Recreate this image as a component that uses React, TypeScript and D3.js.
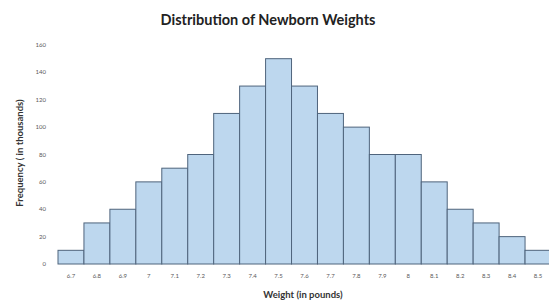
import { useRef, useEffect } from 'react'
import * as d3 from 'd3'

const weights = ["6.7", "6.8", "6.9", "7", "7.1", "7.2", "7.3", "7.4", "7.5", "7.6", "7.7", "7.8", "7.9", "8", "8.1", "8.2", "8.3", "8.4", "8.5"]
const frequencies = [10, 30, 40, 60, 70, 80, 110, 130, 150, 130, 110, 100, 80, 80, 60, 40, 30, 20, 10]
const yTicks = [0, 20, 40, 60, 80, 100, 120, 140, 160]

const width = 549
const height = 300
const margin = { top: 45, right: -2, bottom: 36, left: 58 }

export default function App() {
  const svgRef = useRef<SVGSVGElement>(null)

  useEffect(() => {
    if (!svgRef.current) return
    const svg = d3.select(svgRef.current)
    svg.selectAll("*").remove()

    const innerWidth = width - margin.left - margin.right
    const innerHeight = height - margin.top - margin.bottom

    const x = d3.scaleBand()
      .domain(weights)
      .range([0, innerWidth])
      .padding(0)

    const y = d3.scaleLinear()
      .domain([0, 160])
      .range([innerHeight, 0])

    const font = "Lato, 'Open Sans', sans-serif"

    // Title
    svg.append("text")
      .attr("x", 268)
      .attr("y", 25)
      .attr("text-anchor", "middle")
      .attr("font-family", font)
      .attr("font-weight", "bold")
      .attr("font-size", 14.5)
      .attr("fill", "#222")
      .text("Distribution of Newborn Weights")

    const g = svg.append("g")
      .attr("transform", `translate(${margin.left},${margin.top})`)

    // y ticks (labels only)
    g.selectAll(".ytick")
      .data(yTicks)
      .enter()
      .append("text")
      .attr("x", -12)
      .attr("y", d => y(d))
      .attr("dy", "0.35em")
      .attr("text-anchor", "end")
      .attr("font-family", font)
      .attr("font-size", 6)
      .attr("fill", "#595959")
      .text(d => d)

    // bars
    g.selectAll("rect")
      .data(frequencies)
      .enter()
      .append("rect")
      .attr("x", (_, i) => x(weights[i]) || 0)
      .attr("y", d => y(d))
      .attr("width", x.bandwidth())
      .attr("height", d => innerHeight - y(d))
      .attr("fill", "#bdd7ee")
      .attr("stroke", "#4f647c")
      .attr("stroke-width", 1)

    // x labels
    g.selectAll(".xtick")
      .data(weights)
      .enter()
      .append("text")
      .attr("x", d => (x(d) || 0) + x.bandwidth() / 2)
      .attr("y", innerHeight + 14)
      .attr("text-anchor", "middle")
      .attr("font-family", font)
      .attr("font-size", 6)
      .attr("fill", "#595959")
      .text(d => d)

    // x axis title
    svg.append("text")
      .attr("x", 303)
      .attr("y", 298)
      .attr("text-anchor", "middle")
      .attr("font-family", font)
      .attr("font-weight", "bold")
      .attr("font-size", 9.5)
      .attr("fill", "#333")
      .text("Weight (in pounds)")

    // y axis title
    svg.append("text")
      .attr("transform", `translate(23,153) rotate(-90)`)
      .attr("text-anchor", "middle")
      .attr("font-family", font)
      .attr("font-weight", "bold")
      .attr("font-size", 9.5)
      .attr("fill", "#333")
      .text("Frequency ( in thousands)")
  }, [])

  return (
    <svg
      ref={svgRef}
      width={width}
      height={height}
      style={{ position: 'absolute', left: 0, top: 0, background: '#fff' }}
    />
  )
}
